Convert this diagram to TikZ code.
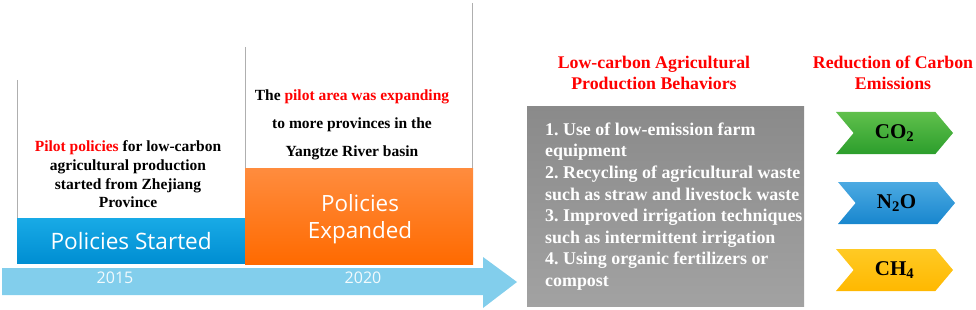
\documentclass[tikz,border=0pt]{standalone}
\usepackage{fontspec}
\setmainfont{Liberation Serif}
\newfontfamily\uisans{Open Sans}
\usetikzlibrary{shapes.symbols}
\frenchspacing
\definecolor{redtxt}{RGB}{255,0,0}
\definecolor{arrowc}{RGB}{130,206,236}
\definecolor{vline}{RGB}{175,175,175}
\tikzset{
  serifbold/.style={font=\bfseries\fontsize{15.5}{18.6}\selectfont, align=center, inner sep=0pt},
  header/.style={font=\bfseries\fontsize{17.8}{21}\selectfont, text=redtxt, align=center, inner sep=0pt},
  bluebox/.style={anchor=north west, minimum width=228pt, minimum height=45pt, inner sep=0pt,
     top color={rgb,255:red,24;green,170;blue,230}, bottom color={rgb,255:red,0;green,142;blue,210},
     text=white, font=\uisans\fontsize{22.6}{27}\selectfont},
  orangebox/.style={anchor=north west, minimum width=228pt, minimum height=96pt, inner sep=0pt,
     top color={rgb,255:red,255;green,140;blue,62}, bottom color={rgb,255:red,255;green,106;blue,0}},
  boxlabel/.style={text=white, align=center, inner sep=0pt, font=\uisans\fontsize{22.4}{27}\selectfont},
  graybox/.style={anchor=north west, minimum width=277pt, minimum height=200pt, inner sep=0pt,
     top color={rgb,255:red,138;green,138;blue,138}, bottom color={rgb,255:red,162;green,162;blue,162}},
  boxtext/.style={text=white, align=left, inner sep=0pt, font=\bfseries\fontsize{17.9}{21.6}\selectfont},
  yeartext/.style={text=white, opacity=0.9, inner sep=0pt, font=\uisans\fontsize{16}{18}\selectfont},
  chevron/.style={signal, signal from=west, signal to=east, signal pointer angle=100,
     minimum width=117pt, minimum height=42pt, inner sep=0pt,
     font=\bfseries\fontsize{21}{24}\selectfont},
  guide/.style={draw=vline, line width=0.7pt}
}
\begin{document}
\begin{tikzpicture}[x=1pt,y=-1pt]
\useasboundingbox (0,0) rectangle (976,310);
% timeline arrow
\fill[arrowc] (2,268) -- (483,268) -- (483,257) -- (517,282) -- (483,308) -- (483,295) -- (2,295) -- cycle;
\node[yeartext] (y2015) at (115,278) {2015};
\node[yeartext] (y2020) at (363,278) {2020};
% guide lines
\coordinate (g1t) at (17,80);  \coordinate (g1b) at (17,218);
\coordinate (g2t) at (245,47); \coordinate (g2b) at (245,168);
\coordinate (g3t) at (472,3);  \coordinate (g3b) at (472,168);
\draw[guide] (g1t) -- (g1b);
\draw[guide] (g2t) -- (g2b);
\draw[guide] (g3t) -- (g3b);
% policy boxes
\node[bluebox] (started) at (17,218) {Policies Started};
\node[orangebox] (expanded) at (245,168) {};
\node[boxlabel] (expandedtext) at (360,219.5) {Policies\\Expanded};
% texts
\node[serifbold] (t2015) at (128,174.5) {\textcolor{redtxt}{Pilot policies} for low-carbon\\agricultural production\\started from Zhejiang\\Province};
\node[serifbold, font=\bfseries\fontsize{15.5}{28}\selectfont] (t2020) at (352,125) {The \textcolor{redtxt}{pilot area was expanding}\\to more provinces in the\\Yangtze River basin};
% headers
\node[header] (h1) at (654,72.5) {Low-carbon Agricultural\\Production Behaviors};
\node[header] (h2) at (893,72.5) {Reduction of Carbon\\Emissions};
% behaviors box
\node[graybox] (behav) at (527,106) {};
\node[boxtext, anchor=west] (btext) at (545,206.5) {1. Use of low-emission farm\\equipment\\2. Recycling of agricultural waste\\such as straw and livestock waste\\3. Improved irrigation techniques\\such as intermittent irrigation\\4. Using organic fertilizers or\\compost};
% chevrons
\node[chevron, top color={rgb,255:red,96;green,192;blue,76}, bottom color={rgb,255:red,44;green,158;blue,44}] (co2) at (894.5,133) {CO\textsubscript{2}};
\node[chevron, top color={rgb,255:red,76;green,170;blue,226}, bottom color={rgb,255:red,24;green,134;blue,206}] (n2o) at (896.5,203) {N\textsubscript{2}O};
\node[chevron, top color={rgb,255:red,255;green,202;blue,36}, bottom color={rgb,255:red,255;green,184;blue,0}] (ch4) at (894.5,270) {CH\textsubscript{4}};
\end{tikzpicture}
\end{document}
